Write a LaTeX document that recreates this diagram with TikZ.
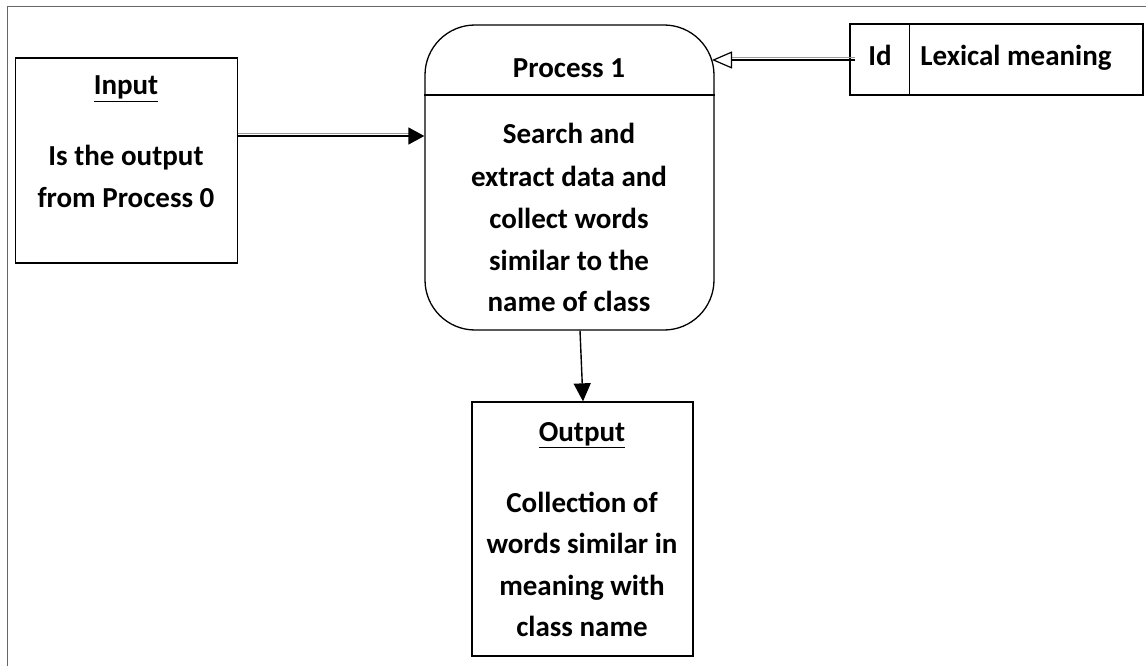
\documentclass[tikz,border=0pt]{standalone}
\usepackage{fontspec}
\setmainfont{Carlito}
\usetikzlibrary{arrows.meta}
\begin{document}
\begin{tikzpicture}[x=1pt,y=-1pt,
  box/.style={draw=black,line width=1.3pt,minimum width=#1,inner sep=0pt},
  txt/.style={font=\fontsize{29}{33}\selectfont\bfseries,inner sep=0pt,anchor=base},
  conn/.style={line width=1.4pt,black},
  shade/.style={line width=1.4pt,black!40}]
\useasboundingbox (0,0) rectangle (1146,666);
% frame
\draw[black!60,line width=1pt] (1146,7) -- (7,7) -- (7,666);
% boxes
\node[box=222pt,minimum height=205pt] (in) at (126.5,160.5) {};
\node[box=289pt,minimum height=305pt,rounded corners=50pt] (pr) at (569.5,177.5) {};
\node[box=293pt,minimum height=71pt] (lx) at (996.5,59.5) {};
\node[box=221pt,minimum height=254pt] (out) at (582.5,529) {};
\draw[line width=1.3pt] (pr.west |- 0,95) coordinate (dl) -- (pr.east |- 0,95) coordinate (dr);
\draw[line width=1.3pt] (lx.north west) ++(60,0) coordinate (ld) -- (ld |- lx.south);
% texts
\node[txt] (tin) at (126,95) {\underline{Input}};
\node[txt] (tin1) at (126,165) {Is the output};
\node[txt] (tin2) at (126,207) {from Process 0};
\node[txt] (tp) at (569,78) {Process 1};
\node[txt] (tp1) at (569,143) {Search and};
\node[txt] (tp2) at (569,186) {extract data and};
\node[txt] (tp3) at (569,228) {collect words};
\node[txt] (tp4) at (569,270) {similar to the};
\node[txt] (tp5) at (569,311) {name of class};
\node[txt] (tid) at (880,66) {Id};
\node[txt] (tlx) at (1016,66) {Lexical meaning};
\node[txt] (to) at (582,441) {\underline{Output}};
\node[txt] (to1) at (582,512) {Collection of};
\node[txt] (to2) at (582,553) {words similar in};
\node[txt] (to3) at (582,595) {meaning with};
\node[txt] (to4) at (582,636) {class name};
% connectors
\coordinate (a1) at (in.east |- 0,136);
\coordinate (a2) at (pr.west |- 0,136);
\draw[shade] ([yshift=2.5pt]a1) -- ([yshift=2.5pt,xshift=-12pt]a2);
\draw[conn,-{Triangle[length=16pt,width=17pt]}] (a1) -- (a2);
\coordinate (b1) at (855,60);
\coordinate (b2) at (712,60);
\draw[shade] ([yshift=2.5pt]b1) -- ([yshift=2.5pt,xshift=20pt]b2);
\draw[conn,-{Triangle[open,length=20pt,width=17pt,line width=1.2pt]}] (b1) -- (b2);
\coordinate (c1) at (pr.south -| 580,0);
\coordinate (c2) at (out.north -| 583,0);
\draw[conn,-{Triangle[length=18pt,width=17pt]}] (c1) -- (c2);
\end{tikzpicture}
\end{document}
